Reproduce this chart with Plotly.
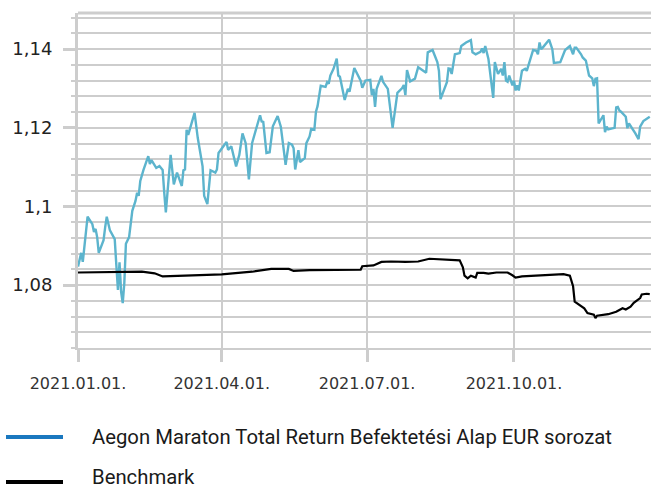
import pandas as pd
import plotly.graph_objects as go

# ---- data ----
start_date = "2021-01-01"

fund_days = [0, 2, 3, 6, 9, 10, 11, 12, 13, 16,
             17, 18, 20, 22, 23, 24, 25, 26, 27, 28,
             29, 30, 32, 34, 36, 37, 38, 39, 41, 44,
             45, 46, 49, 51, 53, 54, 55, 58, 60, 62,
             65, 66, 67, 68, 69, 73, 75, 78, 79, 81,
             83, 86, 87, 88, 93, 94, 96, 97, 99, 101,
             103, 105, 107, 109, 111, 114, 115, 116, 118, 120,
             122, 125, 127, 130, 132, 134, 135, 136, 138, 139,
             142, 143, 145, 146, 148, 149, 150, 152, 155, 156,
             157, 158, 160, 162, 163, 164, 167, 169, 170, 172,
             173, 177, 178, 180, 183, 184, 185, 186, 187, 190,
             191, 194, 197, 200, 203, 204, 205, 206, 208, 211,
             213, 218, 219, 222, 225, 226, 227, 231, 232, 233,
             234, 236, 239, 240, 243, 246, 247, 249, 252, 253,
             254, 255, 257, 260, 261, 263, 265, 266, 267, 268,
             269, 270, 272, 273, 274, 275, 276, 278, 280, 281,
             283, 285, 287, 288, 289, 290, 291, 293, 295, 297,
             298, 302, 303, 305, 308, 310, 311, 312, 315, 316,
             318, 319, 320, 322, 323, 324, 325, 326, 328, 329,
             330, 331, 332, 334, 336, 337, 338, 339, 340, 343,
             344, 345, 347, 349, 351, 352, 354, 357, 358]

fund_values = [1.0847, 1.0882, 1.0859, 1.0974, 1.0955, 1.0935, 1.0943, 1.0922, 1.0882, 1.0914,
               1.0947, 1.0974, 1.0939, 1.0922, 1.0917, 1.0851, 1.0788, 1.0858, 1.0783, 1.0754,
               1.0805, 1.0905, 1.0922, 1.0989, 1.1014, 1.1035, 1.1027, 1.1065, 1.1093, 1.1128,
               1.1108, 1.1118, 1.1098, 1.1103, 1.1093, 1.1035, 1.0985, 1.1131, 1.1056, 1.1086,
               1.1052, 1.1092, 1.1094, 1.1195, 1.1182, 1.1238, 1.1174, 1.1102, 1.1027, 1.1006,
               1.1092, 1.1086, 1.1094, 1.1136, 1.1164, 1.1144, 1.1153, 1.1136, 1.1102, 1.1131,
               1.1186, 1.1161, 1.1069, 1.1161, 1.1190, 1.1232, 1.1216, 1.1215, 1.1136, 1.1138,
               1.1204, 1.1230, 1.1203, 1.1106, 1.1161, 1.1157, 1.1148, 1.1094, 1.1143, 1.1113,
               1.1123, 1.1161, 1.1178, 1.1197, 1.1195, 1.1241, 1.1255, 1.1307, 1.1304, 1.1316,
               1.1312, 1.1333, 1.1350, 1.1376, 1.1333, 1.1330, 1.1271, 1.1299, 1.1292, 1.1335,
               1.1352, 1.1320, 1.1302, 1.1320, 1.1322, 1.1283, 1.1299, 1.1253, 1.1299, 1.1332,
               1.1317, 1.1299, 1.1200, 1.1289, 1.1301, 1.1309, 1.1283, 1.1347, 1.1318, 1.1325,
               1.1354, 1.1340, 1.1392, 1.1398, 1.1367, 1.1345, 1.1273, 1.1316, 1.1351, 1.1350,
               1.1337, 1.1387, 1.1390, 1.1408, 1.1417, 1.1423, 1.1392, 1.1387, 1.1393, 1.1402,
               1.1390, 1.1408, 1.1375, 1.1276, 1.1367, 1.1337, 1.1350, 1.1333, 1.1367, 1.1320,
               1.1317, 1.1333, 1.1308, 1.1320, 1.1295, 1.1308, 1.1295, 1.1345, 1.1350, 1.1345,
               1.1375, 1.1398, 1.1396, 1.1387, 1.1417, 1.1400, 1.1404, 1.1413, 1.1424, 1.1400,
               1.1365, 1.1367, 1.1379, 1.1398, 1.1408, 1.1387, 1.1404, 1.1404, 1.1387, 1.1379,
               1.1371, 1.1354, 1.1333, 1.1326, 1.1306, 1.1325, 1.1326, 1.1211, 1.1224, 1.1232,
               1.1189, 1.1203, 1.1196, 1.1199, 1.1200, 1.1252, 1.1253, 1.1244, 1.1241, 1.1228,
               1.1199, 1.1211, 1.1199, 1.1186, 1.1171, 1.1203, 1.1217, 1.1226, 1.1228]

bench_days = [0, 40, 48, 53, 67, 90, 109, 121, 132, 135,
              145, 159, 177, 178, 185, 190, 196, 205, 213, 220,
              228, 239, 241, 242, 244, 246, 249, 250, 254, 257,
              262, 269, 272, 274, 278, 288, 297, 304, 308, 310,
              311, 314, 317, 319, 323, 324, 325, 332, 337, 341,
              343, 346, 348, 352, 353, 356, 358]

bench_values = [1.0832, 1.0834, 1.0830, 1.0822, 1.0824, 1.0827, 1.0834, 1.0841, 1.0841, 1.0836,
                1.0838, 1.0838, 1.0839, 1.0848, 1.0850, 1.0859, 1.0860, 1.0859, 1.0860, 1.0867,
                1.0866, 1.0863, 1.0845, 1.0824, 1.0817, 1.0824, 1.0819, 1.0831, 1.0831, 1.0829,
                1.0832, 1.0832, 1.0825, 1.0819, 1.0822, 1.0824, 1.0825, 1.0828, 1.0824, 1.0797,
                1.0758, 1.0749, 1.0741, 1.0729, 1.0725, 1.0716, 1.0722, 1.0726, 1.0732, 1.0741,
                1.0738, 1.0745, 1.0755, 1.0767, 1.0776, 1.0778, 1.0777]

fund_name = "Aegon Maraton Total Return Befektetési Alap EUR sorozat"
bench_name = "Benchmark"

x_tick_dates = ["2021-01-01", "2021-04-01", "2021-07-01", "2021-10-01"]
x_tick_labels = ["2021.01.01.", "2021.04.01.", "2021.07.01.", "2021.10.01."]
y_tick_vals = [1.08, 1.10, 1.12, 1.14]
y_tick_labels = ["1,08", "1,1", "1,12", "1,14"]

assert len(fund_days) == len(fund_values)
assert len(bench_days) == len(bench_values)

t0 = pd.Timestamp(start_date)
fund_dates = t0 + pd.to_timedelta(fund_days, unit="D")
bench_dates = t0 + pd.to_timedelta(bench_days, unit="D")

GRID = "#cdcdcd"
TEAL = "#5cb4cd"
LEG_BLUE = "#1a78bf"

fig = go.Figure()
fig.add_trace(go.Scatter(x=fund_dates, y=fund_values, mode="lines", name=fund_name,
                         line=dict(color=TEAL, width=2.4), showlegend=False))
fig.add_trace(go.Scatter(x=bench_dates, y=bench_values, mode="lines", name=bench_name,
                         line=dict(color="#000000", width=2.2), showlegend=False))

W, H = 651, 489
ML, MR, MT, MB = 78, 0, 13, 141
pw = W - ML - MR
ph = H - MT - MB

def px_x(p):
    return (p - ML) / pw

def px_y(p):
    return (H - MB - p) / ph

fig.update_layout(
    width=W, height=H,
    margin=dict(l=ML, r=MR, t=MT, b=MB, pad=0),
    paper_bgcolor="white", plot_bgcolor="white",
    showlegend=False,
    xaxis=dict(
        type="date",
        range=["2021-01-01", "2021-12-25 19:00"],
        tickvals=x_tick_dates, ticktext=x_tick_labels,
        showgrid=True, gridcolor=GRID, gridwidth=2,
        showline=True, linecolor=GRID, linewidth=2,
        ticks="outside", ticklen=12, tickwidth=3, tickcolor=GRID,
        ticklabelstandoff=8,
        tickfont=dict(family="DejaVu Sans", size=16, color="#333333"),
        zeroline=False,
    ),
    yaxis=dict(
        range=[1.064, 1.1492],
        tickvals=y_tick_vals, ticktext=y_tick_labels,
        showgrid=True, gridcolor=GRID, gridwidth=2,
        showline=True, linecolor=GRID, linewidth=3,
        ticks="outside", ticklen=12, tickwidth=3, tickcolor=GRID,
        ticklabelstandoff=7,
        tickfont=dict(family="DejaVu Sans", size=18, color="#222222"),
        zeroline=False,
        minor=dict(dtick=0.004, tick0=1.064, showgrid=True, gridcolor=GRID, gridwidth=2,
                   ticks="outside", ticklen=4, tickwidth=2, tickcolor=GRID),
    ),
)

# top border line of the plot frame
fig.add_shape(type="line", xref="paper", yref="paper", x0=0, x1=1, y0=1, y1=1,
              line=dict(color=GRID, width=3))

# manual legend (swatch + real text)
legend_items = [(fund_name, LEG_BLUE, 437, 437), (bench_name, "#000000", 482, 477)]
for name, col, ypix_line, ypix_text in legend_items:
    fig.add_shape(type="line", xref="paper", yref="paper",
                  x0=px_x(6), x1=px_x(63), y0=px_y(ypix_line), y1=px_y(ypix_line),
                  line=dict(color=col, width=4))
    fig.add_annotation(text=name, xref="paper", yref="paper", x=px_x(90), y=px_y(ypix_text),
                       xanchor="left", yanchor="middle", showarrow=False,
                       font=dict(family="Roboto", size=20.3, color="#1a1a1a"))

fig.write_html(
    "out.html",
    config={"displayModeBar": False},
    post_script="document.body.style.margin='0';document.body.style.overflow='hidden';",
)
